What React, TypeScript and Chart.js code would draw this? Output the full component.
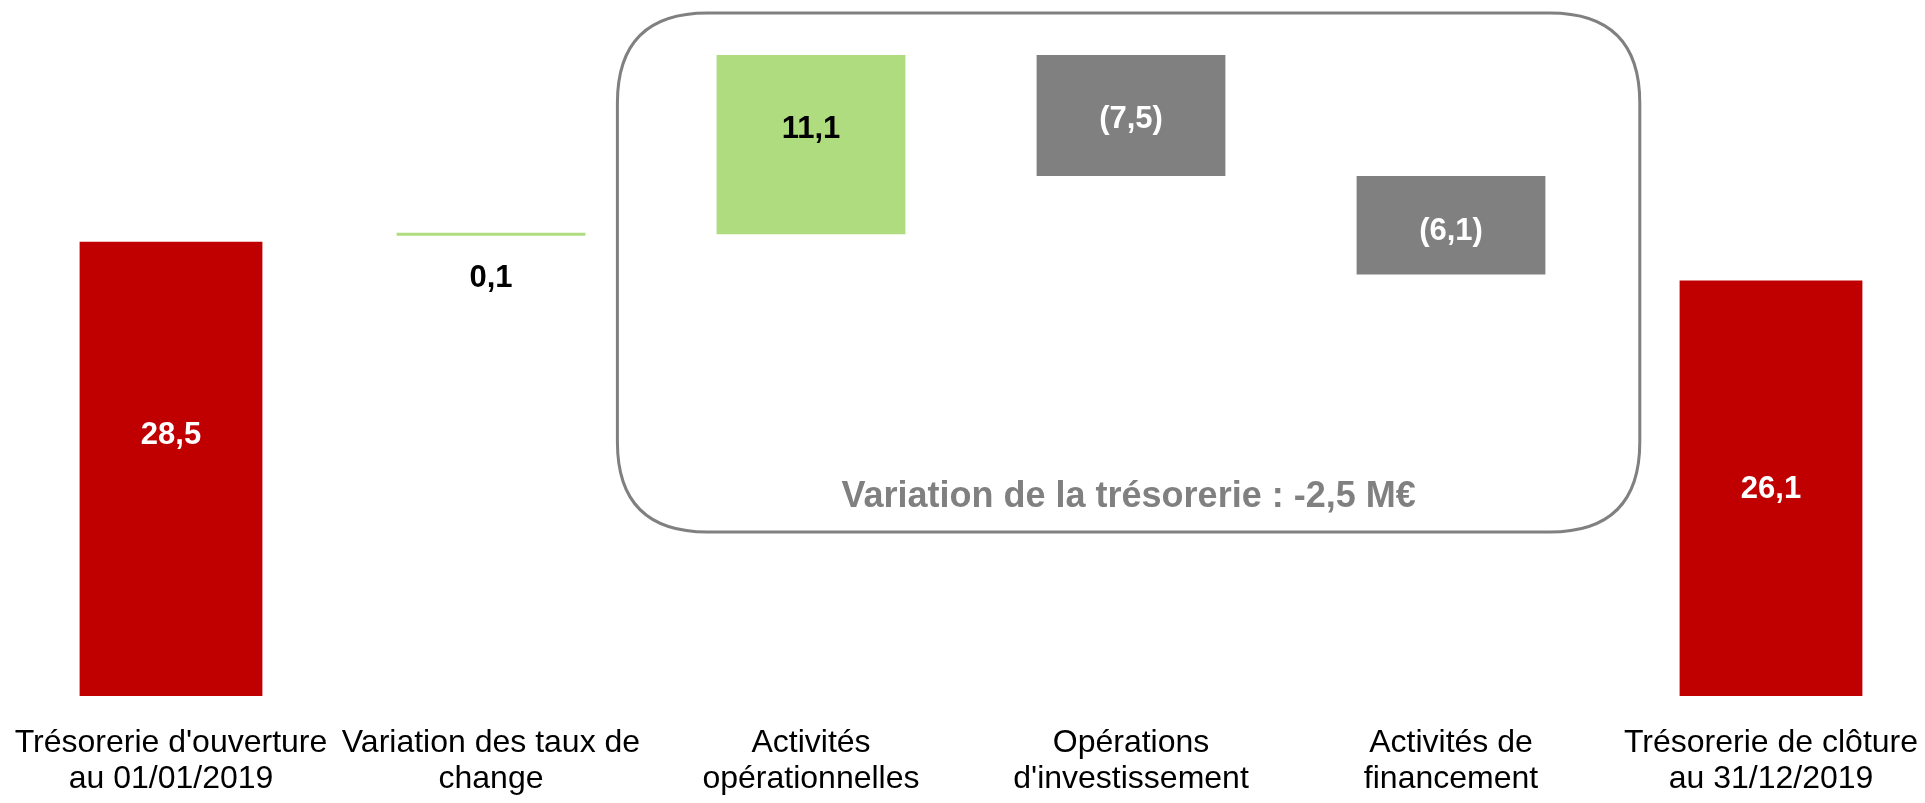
import React, { useEffect, useRef } from "react";
import { Chart, registerables } from "chart.js";

Chart.register(...registerables);

// ---------- data ----------
const categoryLines: string[][] = [
  ["Trésorerie d'ouverture", "au 01/01/2019"],
  ["Variation des taux de", "change"],
  ["Activités", "opérationnelles"],
  ["Opérations", "d'investissement"],
  ["Activités de", "financement"],
  ["Trésorerie de clôture", "au 31/12/2019"],
];
const openingBalance = 28.5;
const movements = [0.1, 11.1, -7.5, -6.1];
const closingBalance = 26.1;
const valueLabels = ["28,5", "0,1", "11,1", "(7,5)", "(6,1)", "26,1"];
const boxCaption = "Variation de la trésorerie : -2,5 M€";
const yAxisMax = 43.1;

// ---------- styles ----------
const RED = "#C00000";
const GREEN = "#B0DC80";
const GREY = "#808080";
const barColors = [RED, GREEN, GREEN, GREY, GREY, RED];
const labelColors = ["#ffffff", "#000000", "#000000", "#ffffff", "#ffffff", "#ffffff"];
const labelShift = [-30, 44, -15, 4, 6, 4];
const FONT = '"Liberation Sans", Arial, sans-serif';

// build floating ranges from the values
function buildRanges(): [number, number][] {
  const r: [number, number][] = [[0, openingBalance]];
  let level = openingBalance;
  for (const m of movements) {
    const next = Math.round((level + m) * 10) / 10;
    r.push([level, next]);
    level = next;
  }
  r.push([0, closingBalance]);
  return r;
}

const overlayPlugin = {
  id: "overlay",
  beforeDatasetsDraw(chart: any) {
    const { ctx } = chart;
    const x = chart.scales.x;
    const y = chart.scales.y;
    const step = x.getPixelForValue(1) - x.getPixelForValue(0);
    const left = x.getPixelForValue(2) - 0.605 * step;
    const right = x.getPixelForValue(4) + 0.59 * step;
    const top = y.getPixelForValue(42.3);
    const bottom = y.getPixelForValue(10.15);
    const r = 90;
    ctx.save();
    ctx.strokeStyle = GREY;
    ctx.lineWidth = 3;
    ctx.beginPath();
    ctx.moveTo(left + r, top);
    ctx.lineTo(right - r, top);
    ctx.quadraticCurveTo(right, top, right, top + r);
    ctx.lineTo(right, bottom - r);
    ctx.quadraticCurveTo(right, bottom, right - r, bottom);
    ctx.lineTo(left + r, bottom);
    ctx.quadraticCurveTo(left, bottom, left, bottom - r);
    ctx.lineTo(left, top + r);
    ctx.quadraticCurveTo(left, top, left + r, top);
    ctx.closePath();
    ctx.stroke();
    ctx.fillStyle = GREY;
    ctx.font = `bold 36px ${FONT}`;
    ctx.textAlign = "center";
    ctx.textBaseline = "middle";
    ctx.fillText(boxCaption, (left + right) / 2, y.getPixelForValue(12.3));
    ctx.restore();
  },
  afterDatasetsDraw(chart: any) {
    const { ctx } = chart;
    const meta = chart.getDatasetMeta(0);
    ctx.save();
    ctx.textAlign = "center";
    ctx.textBaseline = "middle";
    meta.data.forEach((bar: any, i: number) => {
      const p = bar.getProps(["x", "y", "base"], true);
      const cy = (p.y + p.base) / 2 + labelShift[i];
      ctx.fillStyle = labelColors[i];
      ctx.font = `bold 31px ${FONT}`;
      ctx.fillText(valueLabels[i], p.x, cy);
    });
    // category labels
    const area = chart.chartArea;
    ctx.fillStyle = "#000000";
    ctx.font = `32px ${FONT}`;
    categoryLines.forEach((lines, i) => {
      const px = chart.scales.x.getPixelForValue(i);
      lines.forEach((t, j) => {
        ctx.fillText(t, px, area.bottom + 47 + j * 36);
      });
    });
    ctx.restore();
  },
};

export default function App() {
  const ref = useRef<HTMLCanvasElement | null>(null);
  useEffect(() => {
    if (!ref.current) return;
    const ranges = buildRanges();
    const chart = new Chart(ref.current, {
      type: "bar",
      data: {
        labels: categoryLines.map((l) => l.join(" ")),
        datasets: [
          {
            data: ranges as any,
            backgroundColor: barColors,
            borderColor: "#ffffff",
            borderSkipped: false,
            borderWidth: ((c: any) =>
              barColors[c.dataIndex] === RED
                ? { top: 6, left: 3, right: 3, bottom: 0 }
                : 0) as any,
            minBarLength: 3,
            barPercentage: 0.59,
            categoryPercentage: 1,
          },
        ],
      },
      options: {
        responsive: false,
        animation: false,
        devicePixelRatio: 1,
        layout: { padding: { left: 11, right: 0, top: 0, bottom: 107 } },
        plugins: { legend: { display: false }, tooltip: { enabled: false } },
        scales: {
          x: { display: false },
          y: { display: false, min: 0, max: yAxisMax },
        },
      },
      plugins: [overlayPlugin],
    });
    return () => chart.destroy();
  }, []);
  return (
    <div
      style={{
        position: "fixed",
        left: 0,
        top: 0,
        width: 1925,
        height: 803,
        overflow: "hidden",
        background: "#ffffff",
      }}
    >
      <canvas ref={ref} width={1931} height={803} style={{ width: 1931, height: 803, display: "block" }} />
    </div>
  );
}
